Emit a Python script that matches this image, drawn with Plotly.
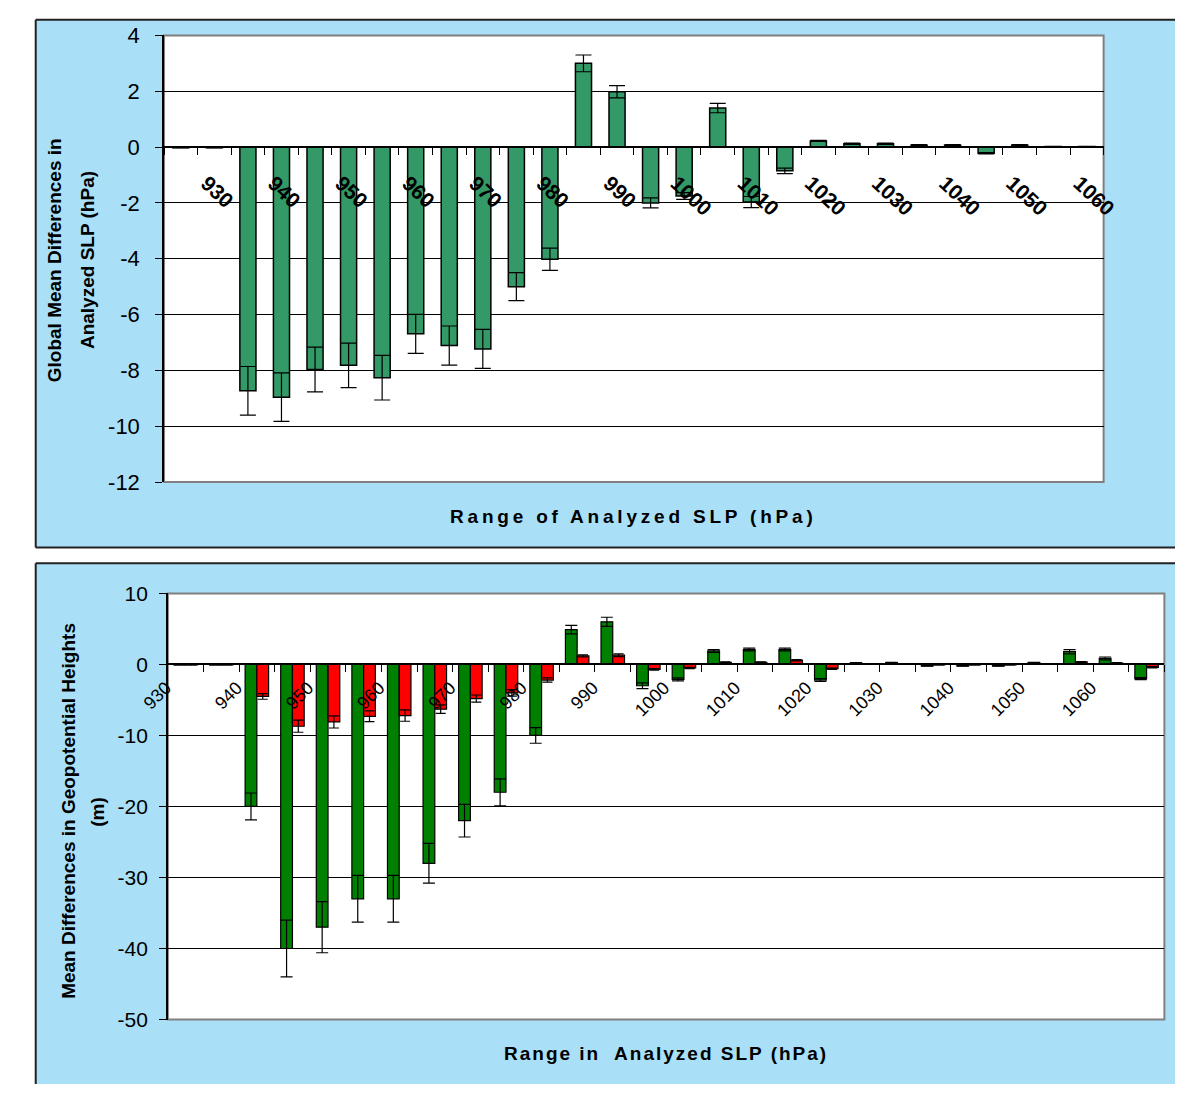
import plotly.graph_objects as go

W, H = 1189, 1097

# ---------------- data ----------------
categories = list(range(28))  # bins of analyzed SLP (5 hPa steps, 930 ... 1065)
top_tick_labels = ["930", "940", "950", "960", "970", "980", "990", "1000",
                   "1010", "1020", "1030", "1040", "1050", "1060"]
bottom_tick_labels = ["930", "940", "950", "960", "970", "980", "990", "1000",
                      "1010", "1020", "1030", "1040", "1050", "1060"]
top_y_ticks = [4, 2, 0, -2, -4, -6, -8, -10, -12]
bottom_y_ticks = [10, 0, -10, -20, -30, -40, -50]

slp_diff = [-0.02, -0.02, -8.73, -8.96, -7.97, -7.82, -8.26, -6.69, -7.11, -7.23,
            -5.0, -4.02, 3.0, 1.98, -2.0, -1.75, 1.4, -1.97, -0.85, 0.22,
            0.12, 0.12, 0.07, 0.07, -0.22, 0.07, 0.02, 0.02]
slp_err = [0, 0, 0.87, 0.87, 0.8, 0.8, 0.8, 0.7, 0.7, 0.7,
           0.5, 0.4, 0.3, 0.22, 0.18, 0.12, 0.17, 0.2, 0.1, 0.02,
           0.02, 0.02, 0.02, 0.02, 0.02, 0.02, 0.0, 0.0]

hgt_green = [-0.05, -0.05, -20.0, -40.0, -37.0, -33.0, -33.0, -28.0, -22.0, -18.0,
             -10.0, 4.9, 6.0, -3.0, -2.1, 1.9, 2.1, 2.1, -2.2, 0.2,
             0.25, -0.2, -0.2, -0.2, 0.25, 1.8, 0.85, -2.0]
hgt_green_err = [0, 0, 1.9, 4.0, 3.6, 3.3, 3.3, 2.8, 2.3, 1.9,
                 1.1, 0.6, 0.65, 0.4, 0.2, 0.2, 0.2, 0.2, 0.2, 0.05,
                 0.05, 0.05, 0.05, 0.05, 0.05, 0.3, 0.2, 0.15]
hgt_red = [-0.05, -0.05, -4.5, -8.7, -8.1, -7.3, -7.2, -6.3, -4.8, -4.0,
           -2.2, 1.2, 1.3, -0.7, -0.5, 0.3, 0.3, 0.6, -0.6, 0.05,
           0.05, -0.05, -0.05, -0.05, 0.05, 0.35, 0.2, -0.4]
hgt_red_err = [0, 0, 0.4, 0.85, 0.85, 0.75, 0.8, 0.6, 0.5, 0.45,
               0.3, 0.15, 0.2, 0.1, 0.1, 0.05, 0.05, 0.1, 0.1, 0.02,
               0.02, 0.02, 0.02, 0.02, 0.02, 0.05, 0.05, 0.1]

# ---------------- layout helpers ----------------
def fx(p):
    return p / W

def fy(p):
    return 1 - p / H

FONT = "Liberation Sans, Arial, sans-serif"
PANEL = "#A9DFF7"
BORDER = "#222222"

top_dom_x = [fx(141), fx(1115)]
top_dom_y = [fy(481), fy(24)]
top_range = [-12, 4]
bot_dom_x = [fx(145), fx(1178)]
bot_dom_y = [fy(1031), fy(595)]
bot_range = [-50, 10]

def zero_pos(dom, rng):
    return dom[0] + (0 - rng[0]) / (rng[1] - rng[0]) * (dom[1] - dom[0])

fig = go.Figure()

fig.add_trace(go.Bar(
    x=categories, y=slp_diff, width=0.48,
    marker=dict(color="#339966", line=dict(color="black", width=1.5)),
    error_y=dict(type="data", array=slp_err, color="black", thickness=1.2, width=8),
    xaxis="x", yaxis="y", showlegend=False))

fig.add_trace(go.Bar(
    x=categories, y=hgt_green,
    marker=dict(color="#008000", line=dict(color="black", width=1.2)),
    error_y=dict(type="data", array=hgt_green_err, color="black", thickness=1.2, width=6),
    xaxis="x2", yaxis="y2", showlegend=False))
fig.add_trace(go.Bar(
    x=categories, y=hgt_red,
    marker=dict(color="#FF0000", line=dict(color="black", width=1.2)),
    error_y=dict(type="data", array=hgt_red_err, color="black", thickness=1.2, width=5),
    xaxis="x2", yaxis="y2", showlegend=False))

boundaries = [i - 0.5 for i in range(29)]

fig.update_layout(
    width=W, height=H, autosize=False,
    margin=dict(l=0, r=0, t=0, b=0),
    paper_bgcolor="white", plot_bgcolor="rgba(0,0,0,0)",
    font=dict(family=FONT, color="black"),
    barmode="group", bargap=0.34, bargroupgap=0,
    xaxis=dict(
        domain=top_dom_x, range=[-0.5, 27.5], anchor="free",
        position=zero_pos(top_dom_y, top_range),
        tickmode="array", tickvals=[0.5 + 2 * i for i in range(len(top_tick_labels))],
        ticktext=top_tick_labels, tickangle=43, ticks="",
        tickfont=dict(size=21, weight="bold", family=FONT),
        ticklabelstandoff=15, ticklabelshift=9,
        minor=dict(tickvals=boundaries, ticks="outside", ticklen=7,
                   tickcolor="black", tickwidth=1, showgrid=False),
        showline=True, linecolor="black", linewidth=1.5,
        showgrid=False, zeroline=False, layer="above traces"),
    yaxis=dict(
        domain=top_dom_y, range=top_range, anchor="x",
        tickmode="array", tickvals=top_y_ticks,
        ticktext=[str(v) for v in top_y_ticks],
        showgrid=True, gridcolor="black", gridwidth=1,
        zeroline=True, zerolinecolor="black", zerolinewidth=1,
        showline=True, linecolor="black", linewidth=1.5,
        ticks="outside", ticklen=7, tickcolor="black",
        tickfont=dict(size=22, family=FONT), ticklabelstandoff=11),
    xaxis2=dict(
        domain=bot_dom_x, range=[-0.5, 27.5], anchor="free",
        position=zero_pos(bot_dom_y, bot_range),
        tickmode="array", tickvals=[-0.5 + 2 * i for i in range(len(bottom_tick_labels))],
        ticktext=bottom_tick_labels, tickangle=-45, ticks="",
        tickfont=dict(size=18, family=FONT),
        ticklabelstandoff=5, ticklabelshift=-2,
        minor=dict(tickvals=boundaries, ticks="outside", ticklen=7,
                   tickcolor="black", tickwidth=1, showgrid=False),
        showline=True, linecolor="black", linewidth=1.5,
        showgrid=False, zeroline=False, layer="above traces"),
    yaxis2=dict(
        domain=bot_dom_y, range=bot_range, anchor="x2",
        tickmode="array", tickvals=bottom_y_ticks,
        ticktext=[str(v) for v in bottom_y_ticks],
        showgrid=True, gridcolor="black", gridwidth=1,
        zeroline=True, zerolinecolor="black", zerolinewidth=1,
        showline=True, linecolor="black", linewidth=1.5,
        ticks="outside", ticklen=7, tickcolor="black",
        tickfont=dict(size=21, family=FONT), ticklabelstandoff=7),
)

def line(x0, y0, x1, y1, color=BORDER, width=2):
    return dict(type="line", xref="paper", yref="paper", x0=fx(x0), y0=fy(y0),
                x1=fx(x1), y1=fy(y1), line=dict(color=color, width=width), layer="below")

shapes = [
    # panels (fill)
    dict(type="rect", xref="paper", yref="paper", x0=fx(8), x1=1, y0=fy(548), y1=fy(8),
         fillcolor=PANEL, line=dict(width=0), layer="below"),
    dict(type="rect", xref="paper", yref="paper", x0=fx(8), x1=1, y0=0, y1=fy(564),
         fillcolor=PANEL, line=dict(width=0), layer="below"),
    # panel borders
    line(8, 8, 1189, 8), line(8, 8, 8, 548), line(8, 548, 1189, 548),
    line(8, 564, 1189, 564), line(8, 564, 8, 1097),
    # plot areas
    dict(type="rect", xref="paper", yref="paper", x0=top_dom_x[0], x1=top_dom_x[1],
         y0=top_dom_y[0], y1=top_dom_y[1], fillcolor="white",
         line=dict(color="#808080", width=2), layer="below"),
    dict(type="rect", xref="paper", yref="paper", x0=bot_dom_x[0], x1=bot_dom_x[1],
         y0=bot_dom_y[0], y1=bot_dom_y[1], fillcolor="white",
         line=dict(color="#808080", width=2), layer="below"),
]
fig.update_layout(shapes=shapes)

def ann(text, x, y, size=19, angle=0):
    return dict(text=text, x=fx(x), y=fy(y), xref="paper", yref="paper", showarrow=False,
                textangle=angle, font=dict(size=size, weight="bold", family=FONT),
                xanchor="center", yanchor="middle")

annotations = [
    ann('<span style="letter-spacing:3.8px">Range of Analyzed SLP (hPa)</span>', 628, 516),
    ann('<span style="letter-spacing:2px">Range in  Analyzed SLP (hPa)</span>', 661, 1066),
    ann("Global Mean Differences in", 27, 254, angle=-90),
    ann("Analyzed SLP (hPa)", 61, 254, angle=-90),
    ann("Mean Differences in Geopotential Heights", 42, 818, angle=-90),
    ann("(m)", 72, 818, angle=-90),
]
fig.update_layout(annotations=annotations)

fig.write_html(
    "out.html",
    config={"displayModeBar": False},
    post_script="document.body.style.margin='0px';document.body.style.overflow='hidden';",
)
